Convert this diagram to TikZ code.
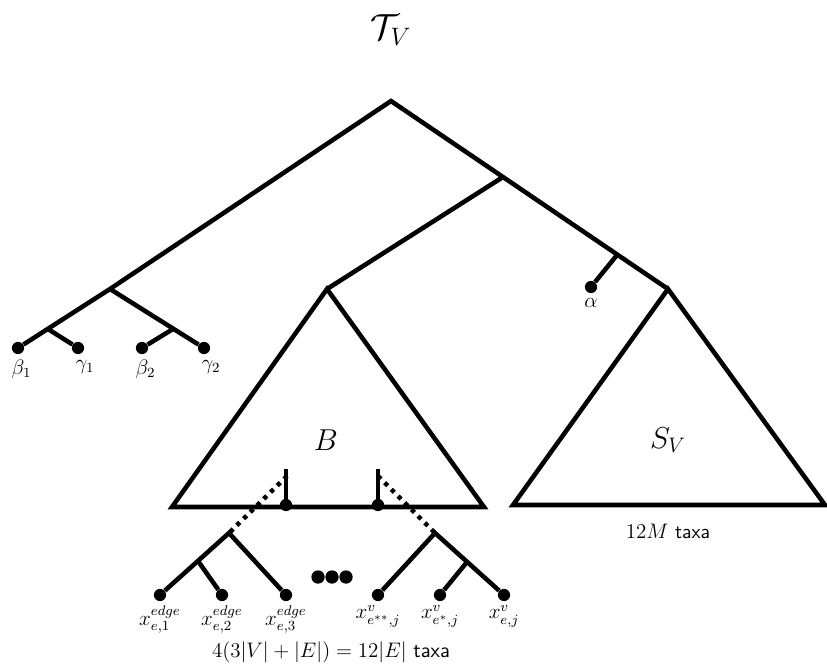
\documentclass[tikz,border=0pt]{standalone}
\usepackage{amsmath}
\begin{document}
\begin{tikzpicture}[x=0.5714pt,y=-0.5714pt,
  font=\fontsize{11.5}{14}\selectfont,
  edge/.style={line width=2.6pt},
  dotted edge/.style={line width=2.6pt,dash pattern=on 2.4pt off 3pt},
  leaf/.style={circle,fill=black,inner sep=0pt,minimum size=7pt},
  bigdot/.style={circle,fill=black,inner sep=0pt,minimum size=7.6pt},
  lbl/.style={inner sep=0.5pt}]
\useasboundingbox (0,0) rectangle (827,666);
% title
\node (title) at (391,30) {\fontsize{21}{24}\selectfont $\mathcal{T}_V$};
% internal coordinates
\coordinate (root) at (391,101);
\coordinate (r1) at (503,177);
\coordinate (l1) at (110,289);
\coordinate (l2) at (48,329);
\coordinate (l3) at (173,329);
\coordinate (a1) at (617,255);
\coordinate (Btop) at (327,289);
\coordinate (Bl) at (172,507);
\coordinate (Br) at (484,507);
\coordinate (Stop) at (668,289);
\coordinate (Sl) at (513,505);
\coordinate (Sr) at (825,505);
% leaves
\node[leaf] (b1) at (18,348) {};
\node[leaf] (g1) at (78,348) {};
\node[leaf] (b2) at (142,348) {};
\node[leaf] (g2) at (204,348) {};
\node[leaf] (al) at (591,287) {};
\node[lbl,anchor=north] at ([xshift=2,yshift=-2.5]b1.south) {$\beta_1$};
\node[lbl,anchor=north] at ([xshift=4,yshift=-2.5]g1.south) {$\gamma_1$};
\node[lbl,anchor=north] at ([xshift=2,yshift=-2.5]b2.south) {$\beta_2$};
\node[lbl,anchor=north] at ([xshift=4,yshift=-2.5]g2.south) {$\gamma_2$};
\node[lbl,anchor=north] at ([yshift=-2]al.south) {$\alpha$};
% left tree
\draw[edge] (b1) -- (l1) -- (root) -- (r1) -- (Stop);
\draw[edge] (l1) -- (g2);
\draw[edge] (l2) -- (g1);
\draw[edge] (l3) -- (b2);
\draw[edge] (r1) -- (Btop);
\draw[edge] (a1) -- (al);
% triangles
\draw[edge,line join=miter] (Btop) -- (Bl) -- (Br) -- cycle;
\draw[edge,line join=miter] (Stop) -- (Sl) -- (Sr) -- cycle;
\node (B) at (326,440) {\fontsize{17}{20}\selectfont $B$};
\node (S) at (668,440) {\fontsize{17}{20}\selectfont $S_V$};
\node (Staxa) at (668,531) {$12M$ \textsf{taxa}};
% attachment points inside B
\coordinate (v1t) at (286,469);
\coordinate (v2t) at (378,469);
\node[leaf] (v1) at (286,505) {};
\node[leaf] (v2) at (378,505) {};
\draw[edge] (v1t) -- (v1.center);
\draw[edge] (v2t) -- (v2.center);
% lower subtrees
\coordinate (d1s) at (287,476);
\coordinate (d2s) at (378,476);
\coordinate (s1) at (229,533);
\coordinate (s2) at (435,533);
\coordinate (s1i) at (198,561);
\coordinate (s2i) at (467,562);
\draw[dotted edge] (d1s) -- (s1);
\draw[dotted edge] (d2s) -- (s2);
\node[leaf] (x1) at (160,595) {};
\node[leaf] (x2) at (222,595) {};
\node[leaf] (x3) at (286,595) {};
\node[leaf] (y1) at (378,595) {};
\node[leaf] (y2) at (440,595) {};
\node[leaf] (y3) at (504,595) {};
\draw[edge] (x1) -- (s1) -- (x3);
\draw[edge] (s1i) -- (x2);
\draw[edge] (y1) -- (s2) -- (y3);
\draw[edge] (s2i) -- (y2);
\node[lbl,anchor=north] at ([yshift=-1.5]x1.south) {$x^{edge}_{e,1}$};
\node[lbl,anchor=north] at ([yshift=-1.5]x2.south) {$x^{edge}_{e,2}$};
\node[lbl,anchor=north] at ([yshift=-1.5]x3.south) {$x^{edge}_{e,3}$};
\node[lbl,anchor=north] at ([yshift=-1.5]y1.south) {$x^{v}_{e^{**},j}$};
\node[lbl,anchor=north] at ([yshift=-1.5]y2.south) {$x^{v}_{e^{*},j}$};
\node[lbl,anchor=north] at ([yshift=-1.5]y3.south) {$x^{v}_{e,j}$};
% ellipsis dots
\node[bigdot] (e1) at (318,577) {};
\node[bigdot] (e2) at (332,577) {};
\node[bigdot] (e3) at (346,577) {};
\node (bottom) at (331,652) {\fontsize{12}{14}\selectfont $4(3|V|+|E|)=12|E|$ \textsf{taxa}};
\end{tikzpicture}
\end{document}
